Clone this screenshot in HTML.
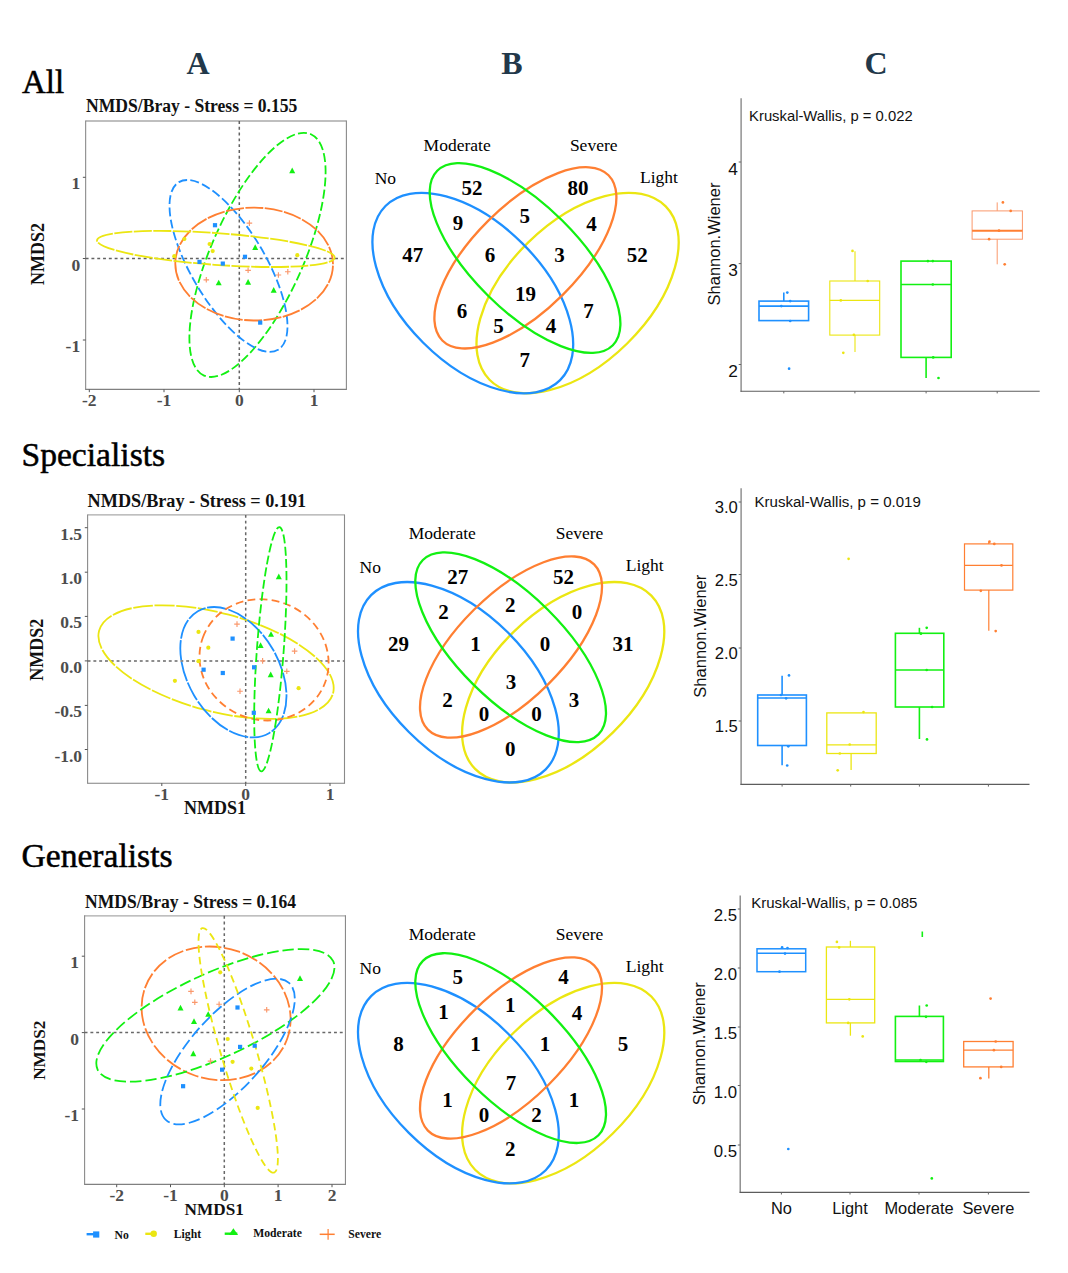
<!DOCTYPE html>
<html><head><meta charset="utf-8"><title>Figure</title>
<style>html,body{margin:0;padding:0;background:#fff}svg{display:block}</style></head>
<body><svg width="1068" height="1273" viewBox="0 0 1068 1273">
<rect width="1068" height="1273" fill="#ffffff"/>
<text x="22.00" y="92.50" font-family="Liberation Serif, serif" font-size="33" font-weight="normal" fill="#000" text-anchor="start" stroke="#000" stroke-width="0.5">All</text>
<text x="21.50" y="465.50" font-family="Liberation Serif, serif" font-size="33.6" font-weight="normal" fill="#000" text-anchor="start" stroke="#000" stroke-width="0.5">Specialists</text>
<text x="21.50" y="866.70" font-family="Liberation Serif, serif" font-size="33.6" font-weight="normal" fill="#000" text-anchor="start" stroke="#000" stroke-width="0.5">Generalists</text>
<text x="198.00" y="73.80" font-family="Liberation Serif, serif" font-size="32" font-weight="bold" fill="#22384a" text-anchor="middle">A</text>
<text x="512.00" y="73.50" font-family="Liberation Serif, serif" font-size="32" font-weight="bold" fill="#22384a" text-anchor="middle">B</text>
<text x="876.00" y="74.20" font-family="Liberation Serif, serif" font-size="32" font-weight="bold" fill="#22384a" text-anchor="middle">C</text>
<path d="M85.65,121.0H346.4" stroke="#aaa" stroke-width="1.3" fill="none"/>
<path d="M85.65,120.5V389.9M346.4,120.5V389.9" stroke="#8a8a8a" stroke-width="1.1" fill="none"/>
<path d="M85.65,389.4H346.4" stroke="#808080" stroke-width="1.1" fill="none"/>
<path d="M239.3,121.0V389.4M85.65,258.5H346.4" stroke="#626262" stroke-width="1.5" stroke-dasharray="2.9 2.9" fill="none"/>
<text transform="translate(86,112.2) scale(1,1.04)" font-family="Liberation Serif, serif" font-size="17.6" font-weight="bold" fill="#111">NMDS/Bray - Stress = 0.155</text>
<path d="M89.3,389.4v2.8" stroke="#555" stroke-width="1"/>
<text x="89.30" y="405.90" font-family="Liberation Serif, serif" font-size="17.5" font-weight="bold" fill="#4d4d4d" text-anchor="middle">-2</text>
<path d="M164,389.4v2.8" stroke="#555" stroke-width="1"/>
<text x="164.00" y="405.90" font-family="Liberation Serif, serif" font-size="17.5" font-weight="bold" fill="#4d4d4d" text-anchor="middle">-1</text>
<path d="M239.3,389.4v2.8" stroke="#555" stroke-width="1"/>
<text x="239.30" y="405.90" font-family="Liberation Serif, serif" font-size="17.5" font-weight="bold" fill="#4d4d4d" text-anchor="middle">0</text>
<path d="M314,389.4v2.8" stroke="#555" stroke-width="1"/>
<text x="314.00" y="405.90" font-family="Liberation Serif, serif" font-size="17.5" font-weight="bold" fill="#4d4d4d" text-anchor="middle">1</text>
<path d="M85.65,177.3h-2.8" stroke="#555" stroke-width="1"/>
<text x="80.15" y="189.30" font-family="Liberation Serif, serif" font-size="17.5" font-weight="bold" fill="#4d4d4d" text-anchor="end">1</text>
<path d="M85.65,258.5h-2.8" stroke="#555" stroke-width="1"/>
<text x="80.15" y="270.50" font-family="Liberation Serif, serif" font-size="17.5" font-weight="bold" fill="#4d4d4d" text-anchor="end">0</text>
<path d="M85.65,340h-2.8" stroke="#555" stroke-width="1"/>
<text x="80.15" y="352.00" font-family="Liberation Serif, serif" font-size="17.5" font-weight="bold" fill="#4d4d4d" text-anchor="end">-1</text>
<text transform="translate(44.00,254.00) rotate(-90)" font-family="Liberation Serif, serif" font-size="18" font-weight="bold" fill="#111" text-anchor="middle">NMDS2</text>
<ellipse cx="0" cy="0" rx="131.97" ry="46.16" transform="translate(257.50,254.90) rotate(113.89)" fill="none" stroke="#12f012" stroke-width="1.8" stroke-dasharray="9 3.3"/>
<ellipse cx="0" cy="0" rx="97.41" ry="37.13" transform="translate(228.50,265.95) rotate(59.40)" fill="none" stroke="#1e90ff" stroke-width="1.8" stroke-dasharray="9 3.3"/>
<ellipse cx="0" cy="0" rx="78.85" ry="56.45" transform="translate(254.15,264.05) rotate(-179.47)" fill="none" stroke="#ff7f32" stroke-width="1.8" stroke-dasharray="18 1.5"/>
<ellipse cx="0" cy="0" rx="119.16" ry="15.88" transform="translate(215.85,248.95) rotate(-175.83)" fill="none" stroke="#ebe612" stroke-width="1.8" stroke-dasharray="18 1.5"/>
<rect x="212.90" y="223.10" width="4.2" height="4.2" fill="#1e90ff"/>
<rect x="197.40" y="259.80" width="4.2" height="4.2" fill="#1e90ff"/>
<rect x="220.70" y="261.50" width="4.2" height="4.2" fill="#1e90ff"/>
<rect x="242.90" y="254.70" width="4.2" height="4.2" fill="#1e90ff"/>
<rect x="258.10" y="320.50" width="4.2" height="4.2" fill="#1e90ff"/>
<circle cx="184.40" cy="239.00" r="2.1" fill="#ebe612"/>
<circle cx="209.60" cy="244.00" r="2.1" fill="#ebe612"/>
<circle cx="212.70" cy="251.10" r="2.1" fill="#ebe612"/>
<circle cx="174.30" cy="256.20" r="2.1" fill="#ebe612"/>
<circle cx="297.30" cy="255.20" r="2.1" fill="#ebe612"/>
<path d="M292.20,167.45 L295.20,173.15 L289.20,173.15Z" fill="#12f012"/>
<path d="M255.20,244.25 L258.20,249.95 L252.20,249.95Z" fill="#12f012"/>
<path d="M218.70,279.65 L221.70,285.35 L215.70,285.35Z" fill="#12f012"/>
<path d="M248.10,279.05 L251.10,284.75 L245.10,284.75Z" fill="#12f012"/>
<path d="M273.70,287.05 L276.70,292.75 L270.70,292.75Z" fill="#12f012"/>
<path d="M246.60,223.10H252.20M249.40,220.30V225.90" stroke="#fa986c" stroke-width="1.15" fill="none"/>
<path d="M245.30,270.30H250.90M248.10,267.50V273.10" stroke="#fa986c" stroke-width="1.15" fill="none"/>
<path d="M203.50,279.80H209.10M206.30,277.00V282.60" stroke="#fa986c" stroke-width="1.15" fill="none"/>
<path d="M275.60,275.00H281.20M278.40,272.20V277.80" stroke="#fa986c" stroke-width="1.15" fill="none"/>
<path d="M285.00,271.70H290.60M287.80,268.90V274.50" stroke="#fa986c" stroke-width="1.15" fill="none"/>
<path d="M87.6,514.9H344.5" stroke="#aaa" stroke-width="1.3" fill="none"/>
<path d="M87.6,514.4V783.7M344.5,514.4V783.7" stroke="#8a8a8a" stroke-width="1.1" fill="none"/>
<path d="M87.6,783.2H344.5" stroke="#808080" stroke-width="1.1" fill="none"/>
<path d="M245.7,514.9V783.2M87.6,660.9H344.5" stroke="#686868" stroke-width="1.5" stroke-dasharray="2.9 2.9" fill="none"/>
<text transform="translate(87.6,506.5) scale(1,1.04)" font-family="Liberation Serif, serif" font-size="18.2" font-weight="bold" fill="#111">NMDS/Bray - Stress = 0.191</text>
<path d="M161.8,783.2v2.8" stroke="#555" stroke-width="1"/>
<text x="161.80" y="799.70" font-family="Liberation Serif, serif" font-size="17.5" font-weight="bold" fill="#4d4d4d" text-anchor="middle">-1</text>
<path d="M245.7,783.2v2.8" stroke="#555" stroke-width="1"/>
<text x="245.70" y="799.70" font-family="Liberation Serif, serif" font-size="17.5" font-weight="bold" fill="#4d4d4d" text-anchor="middle">0</text>
<path d="M330,783.2v2.8" stroke="#555" stroke-width="1"/>
<text x="330.00" y="799.70" font-family="Liberation Serif, serif" font-size="17.5" font-weight="bold" fill="#4d4d4d" text-anchor="middle">1</text>
<path d="M87.6,527.7h-2.8" stroke="#555" stroke-width="1"/>
<text x="82.10" y="539.70" font-family="Liberation Serif, serif" font-size="17.5" font-weight="bold" fill="#4d4d4d" text-anchor="end">1.5</text>
<path d="M87.6,572.2h-2.8" stroke="#555" stroke-width="1"/>
<text x="82.10" y="584.20" font-family="Liberation Serif, serif" font-size="17.5" font-weight="bold" fill="#4d4d4d" text-anchor="end">1.0</text>
<path d="M87.6,616.4h-2.8" stroke="#555" stroke-width="1"/>
<text x="82.10" y="628.40" font-family="Liberation Serif, serif" font-size="17.5" font-weight="bold" fill="#4d4d4d" text-anchor="end">0.5</text>
<path d="M87.6,660.9h-2.8" stroke="#555" stroke-width="1"/>
<text x="82.10" y="672.90" font-family="Liberation Serif, serif" font-size="17.5" font-weight="bold" fill="#4d4d4d" text-anchor="end">0.0</text>
<path d="M87.6,705.4h-2.8" stroke="#555" stroke-width="1"/>
<text x="82.10" y="717.40" font-family="Liberation Serif, serif" font-size="17.5" font-weight="bold" fill="#4d4d4d" text-anchor="end">-0.5</text>
<path d="M87.6,749.5h-2.8" stroke="#555" stroke-width="1"/>
<text x="82.10" y="761.50" font-family="Liberation Serif, serif" font-size="17.5" font-weight="bold" fill="#4d4d4d" text-anchor="end">-1.0</text>
<text x="215.00" y="813.60" font-family="Liberation Serif, serif" font-size="18" font-weight="bold" fill="#111" text-anchor="middle">NMDS1</text>
<text transform="translate(43.00,649.80) rotate(-90)" font-family="Liberation Serif, serif" font-size="18" font-weight="bold" fill="#111" text-anchor="middle">NMDS2</text>
<ellipse cx="0" cy="0" rx="121.08" ry="49.06" transform="translate(216.05,662.10) rotate(-165.01)" fill="none" stroke="#ebe612" stroke-width="1.8" stroke-dasharray="20 1.6"/>
<ellipse cx="0" cy="0" rx="70.63" ry="45.63" transform="translate(233.40,672.20) rotate(59.75)" fill="none" stroke="#1e90ff" stroke-width="1.8" stroke-dasharray="20 1.6"/>
<ellipse cx="0" cy="0" rx="65.13" ry="60.02" transform="translate(264.05,659.85) rotate(-159.91)" fill="none" stroke="#ff7f32" stroke-width="1.8" stroke-dasharray="7.8 4.3"/>
<ellipse cx="0" cy="0" rx="122.48" ry="13.41" transform="translate(270.35,649.25) rotate(94.24)" fill="none" stroke="#12f012" stroke-width="1.8" stroke-dasharray="9 3.3"/>
<rect x="230.50" y="636.50" width="4.2" height="4.2" fill="#1e90ff"/>
<rect x="201.50" y="667.60" width="4.2" height="4.2" fill="#1e90ff"/>
<rect x="220.70" y="670.90" width="4.2" height="4.2" fill="#1e90ff"/>
<rect x="252.00" y="665.20" width="4.2" height="4.2" fill="#1e90ff"/>
<rect x="251.70" y="710.70" width="4.2" height="4.2" fill="#1e90ff"/>
<circle cx="198.50" cy="631.90" r="2.1" fill="#ebe612"/>
<circle cx="208.30" cy="647.70" r="2.1" fill="#ebe612"/>
<circle cx="198.50" cy="661.20" r="2.1" fill="#ebe612"/>
<circle cx="174.90" cy="680.80" r="2.1" fill="#ebe612"/>
<circle cx="298.60" cy="688.20" r="2.1" fill="#ebe612"/>
<path d="M278.80,573.55 L281.80,579.25 L275.80,579.25Z" fill="#12f012"/>
<path d="M271.00,631.15 L274.00,636.85 L268.00,636.85Z" fill="#12f012"/>
<path d="M260.60,642.25 L263.60,647.95 L257.60,647.95Z" fill="#12f012"/>
<path d="M270.70,671.55 L273.70,677.25 L267.70,677.25Z" fill="#12f012"/>
<path d="M268.60,707.65 L271.60,713.35 L265.60,713.35Z" fill="#12f012"/>
<path d="M234.20,624.10H239.80M237.00,621.30V626.90" stroke="#fa986c" stroke-width="1.15" fill="none"/>
<path d="M291.80,651.10H297.40M294.60,648.30V653.90" stroke="#fa986c" stroke-width="1.15" fill="none"/>
<path d="M259.80,660.90H265.40M262.60,658.10V663.70" stroke="#fa986c" stroke-width="1.15" fill="none"/>
<path d="M284.00,671.30H289.60M286.80,668.50V674.10" stroke="#fa986c" stroke-width="1.15" fill="none"/>
<path d="M237.20,691.20H242.80M240.00,688.40V694.00" stroke="#fa986c" stroke-width="1.15" fill="none"/>
<path d="M84.6,915.8H345.45" stroke="#aaa" stroke-width="1.3" fill="none"/>
<path d="M84.6,915.3V1184.9M345.45,915.3V1184.9" stroke="#8a8a8a" stroke-width="1.1" fill="none"/>
<path d="M84.6,1184.4H345.45" stroke="#808080" stroke-width="1.1" fill="none"/>
<path d="M224.3,915.8V1184.4M84.6,1032.6H345.45" stroke="#686868" stroke-width="1.5" stroke-dasharray="2.9 2.9" fill="none"/>
<text transform="translate(85,907.5) scale(1,1.09)" font-family="Liberation Serif, serif" font-size="17.56" font-weight="bold" fill="#111">NMDS/Bray - Stress = 0.164</text>
<path d="M116.7,1184.4v2.8" stroke="#555" stroke-width="1"/>
<text x="116.70" y="1201.00" font-family="Liberation Serif, serif" font-size="17.5" font-weight="bold" fill="#4d4d4d" text-anchor="middle">-2</text>
<path d="M170.5,1184.4v2.8" stroke="#555" stroke-width="1"/>
<text x="170.50" y="1201.00" font-family="Liberation Serif, serif" font-size="17.5" font-weight="bold" fill="#4d4d4d" text-anchor="middle">-1</text>
<path d="M224.3,1184.4v2.8" stroke="#555" stroke-width="1"/>
<text x="224.30" y="1201.00" font-family="Liberation Serif, serif" font-size="17.5" font-weight="bold" fill="#4d4d4d" text-anchor="middle">0</text>
<path d="M278.1,1184.4v2.8" stroke="#555" stroke-width="1"/>
<text x="278.10" y="1201.00" font-family="Liberation Serif, serif" font-size="17.5" font-weight="bold" fill="#4d4d4d" text-anchor="middle">1</text>
<path d="M332,1184.4v2.8" stroke="#555" stroke-width="1"/>
<text x="332.00" y="1201.00" font-family="Liberation Serif, serif" font-size="17.5" font-weight="bold" fill="#4d4d4d" text-anchor="middle">2</text>
<path d="M84.6,956.2h-2.8" stroke="#555" stroke-width="1"/>
<text x="79.10" y="968.20" font-family="Liberation Serif, serif" font-size="17.5" font-weight="bold" fill="#4d4d4d" text-anchor="end">1</text>
<path d="M84.6,1032.6h-2.8" stroke="#555" stroke-width="1"/>
<text x="79.10" y="1044.60" font-family="Liberation Serif, serif" font-size="17.5" font-weight="bold" fill="#4d4d4d" text-anchor="end">0</text>
<path d="M84.6,1109h-2.8" stroke="#555" stroke-width="1"/>
<text x="79.10" y="1121.00" font-family="Liberation Serif, serif" font-size="17.5" font-weight="bold" fill="#4d4d4d" text-anchor="end">-1</text>
<text x="214.20" y="1214.60" font-family="Liberation Serif, serif" font-size="17.2" font-weight="bold" fill="#111" text-anchor="middle">NMDS1</text>
<text transform="translate(45.00,1050.20) rotate(-90)" font-family="Liberation Serif, serif" font-size="17.2" font-weight="bold" fill="#111" text-anchor="middle">NMDS2</text>
<ellipse cx="0" cy="0" rx="75.53" ry="65.68" transform="translate(216.10,1013.35) rotate(-160.50)" fill="none" stroke="#ff7f32" stroke-width="1.8" stroke-dasharray="16.5 2.8"/>
<ellipse cx="0" cy="0" rx="129.66" ry="42.05" transform="translate(215.40,1015.40) rotate(155.30)" fill="none" stroke="#12f012" stroke-width="1.8" stroke-dasharray="11.5 4"/>
<ellipse cx="0" cy="0" rx="92.11" ry="36.68" transform="translate(227.55,1051.55) rotate(131.85)" fill="none" stroke="#1e90ff" stroke-width="1.8" stroke-dasharray="11.5 4"/>
<ellipse cx="0" cy="0" rx="127.37" ry="17.63" transform="translate(238.20,1050.40) rotate(73.62)" fill="none" stroke="#ebe612" stroke-width="1.8" stroke-dasharray="7.5 4.3"/>
<rect x="235.40" y="1005.40" width="4.2" height="4.2" fill="#1e90ff"/>
<rect x="238.00" y="1044.80" width="4.2" height="4.2" fill="#1e90ff"/>
<rect x="252.60" y="1043.60" width="4.2" height="4.2" fill="#1e90ff"/>
<rect x="220.00" y="1067.60" width="4.2" height="4.2" fill="#1e90ff"/>
<rect x="181.00" y="1084.10" width="4.2" height="4.2" fill="#1e90ff"/>
<circle cx="220.20" cy="972.30" r="2.1" fill="#ebe612"/>
<circle cx="227.70" cy="1039.00" r="2.1" fill="#ebe612"/>
<circle cx="232.60" cy="1061.80" r="2.1" fill="#ebe612"/>
<circle cx="251.30" cy="1068.60" r="2.1" fill="#ebe612"/>
<circle cx="257.70" cy="1107.90" r="2.1" fill="#ebe612"/>
<path d="M300.00,975.25 L303.00,980.95 L297.00,980.95Z" fill="#12f012"/>
<path d="M180.50,1004.85 L183.50,1010.55 L177.50,1010.55Z" fill="#12f012"/>
<path d="M208.20,1011.15 L211.20,1016.85 L205.20,1016.85Z" fill="#12f012"/>
<path d="M194.00,1018.35 L197.00,1024.05 L191.00,1024.05Z" fill="#12f012"/>
<path d="M193.30,1050.55 L196.30,1056.25 L190.30,1056.25Z" fill="#12f012"/>
<path d="M188.20,991.40H193.80M191.00,988.60V994.20" stroke="#fa986c" stroke-width="1.15" fill="none"/>
<path d="M192.00,1002.30H197.60M194.80,999.50V1005.10" stroke="#fa986c" stroke-width="1.15" fill="none"/>
<path d="M216.30,1004.20H221.90M219.10,1001.40V1007.00" stroke="#fa986c" stroke-width="1.15" fill="none"/>
<path d="M263.90,1009.80H269.50M266.70,1007.00V1012.60" stroke="#fa986c" stroke-width="1.15" fill="none"/>
<path d="M207.70,1061.10H213.30M210.50,1058.30V1063.90" stroke="#fa986c" stroke-width="1.15" fill="none"/>
<path d="M86.6,1234.2h9" stroke="#1e90ff" stroke-width="2.4"/>
<rect x="93.10" y="1231.40" width="6.2" height="6.2" fill="#1e90ff"/>
<text x="114.50" y="1238.50" font-family="Liberation Serif, serif" font-size="11.7" font-weight="bold" fill="#111" text-anchor="start">No</text>
<path d="M145.3,1233.8h8" stroke="#ebe612" stroke-width="2.4"/>
<circle cx="153.70" cy="1233.70" r="3.2" fill="#ebe612"/>
<text x="173.80" y="1237.90" font-family="Liberation Serif, serif" font-size="11.7" font-weight="bold" fill="#111" text-anchor="start">Light</text>
<path d="M224.7,1233.7h12.6" stroke="#12f012" stroke-width="2.4"/>
<path d="M233.4,1228.2L238,1235H228.8Z" fill="#12f012"/>
<text x="253.20" y="1237.30" font-family="Liberation Serif, serif" font-size="11.7" font-weight="bold" fill="#111" text-anchor="start">Moderate</text>
<path d="M319.7,1234.3h15" stroke="#ff7f32" stroke-width="1.5"/>
<path d="M328.1,1229v10.7" stroke="#ff7f32" stroke-width="1.2"/>
<text x="348.20" y="1237.90" font-family="Liberation Serif, serif" font-size="11.7" font-weight="bold" fill="#111" text-anchor="start">Severe</text>
<ellipse cx="0" cy="0" rx="123.59" ry="70.69" transform="translate(577.60,293.05) rotate(135.48)" fill="none" stroke="#ebe612" stroke-width="2.3"/>
<ellipse cx="0" cy="0" rx="123.30" ry="70.19" transform="translate(472.80,293.05) rotate(-135.08)" fill="none" stroke="#1e90ff" stroke-width="2.3"/>
<ellipse cx="0" cy="0" rx="117.19" ry="52.58" transform="translate(525.40,257.85) rotate(135.17)" fill="none" stroke="#ff7f32" stroke-width="2.3"/>
<ellipse cx="0" cy="0" rx="123.74" ry="52.78" transform="translate(525.05,258.00) rotate(-135.20)" fill="none" stroke="#12f012" stroke-width="2.3"/>
<text x="472.10" y="195.40" font-family="Liberation Serif, serif" font-size="21" font-weight="bold" fill="#000" text-anchor="middle">52</text>
<text x="578.00" y="195.40" font-family="Liberation Serif, serif" font-size="21" font-weight="bold" fill="#000" text-anchor="middle">80</text>
<text x="458.00" y="230.10" font-family="Liberation Serif, serif" font-size="21" font-weight="bold" fill="#000" text-anchor="middle">9</text>
<text x="524.70" y="223.40" font-family="Liberation Serif, serif" font-size="21" font-weight="bold" fill="#000" text-anchor="middle">5</text>
<text x="591.40" y="230.80" font-family="Liberation Serif, serif" font-size="21" font-weight="bold" fill="#000" text-anchor="middle">4</text>
<text x="412.80" y="262.20" font-family="Liberation Serif, serif" font-size="21" font-weight="bold" fill="#000" text-anchor="middle">47</text>
<text x="490.00" y="262.20" font-family="Liberation Serif, serif" font-size="21" font-weight="bold" fill="#000" text-anchor="middle">6</text>
<text x="559.40" y="262.20" font-family="Liberation Serif, serif" font-size="21" font-weight="bold" fill="#000" text-anchor="middle">3</text>
<text x="637.30" y="262.20" font-family="Liberation Serif, serif" font-size="21" font-weight="bold" fill="#000" text-anchor="middle">52</text>
<text x="525.40" y="300.60" font-family="Liberation Serif, serif" font-size="21" font-weight="bold" fill="#000" text-anchor="middle">19</text>
<text x="462.00" y="318.40" font-family="Liberation Serif, serif" font-size="21" font-weight="bold" fill="#000" text-anchor="middle">6</text>
<text x="588.40" y="318.40" font-family="Liberation Serif, serif" font-size="21" font-weight="bold" fill="#000" text-anchor="middle">7</text>
<text x="498.40" y="332.60" font-family="Liberation Serif, serif" font-size="21" font-weight="bold" fill="#000" text-anchor="middle">5</text>
<text x="551.00" y="332.60" font-family="Liberation Serif, serif" font-size="21" font-weight="bold" fill="#000" text-anchor="middle">4</text>
<text x="524.70" y="367.30" font-family="Liberation Serif, serif" font-size="21" font-weight="bold" fill="#000" text-anchor="middle">7</text>
<text x="423.60" y="150.70" font-family="Liberation Serif, serif" font-size="17.5" font-weight="normal" fill="#000" text-anchor="start">Moderate</text>
<text x="569.90" y="150.70" font-family="Liberation Serif, serif" font-size="17.5" font-weight="normal" fill="#000" text-anchor="start">Severe</text>
<text x="374.70" y="184.40" font-family="Liberation Serif, serif" font-size="17.5" font-weight="normal" fill="#000" text-anchor="start">No</text>
<text x="640.00" y="183.40" font-family="Liberation Serif, serif" font-size="17.5" font-weight="normal" fill="#000" text-anchor="start">Light</text>
<ellipse cx="0" cy="0" rx="123.59" ry="70.69" transform="translate(563.20,682.25) rotate(135.48)" fill="none" stroke="#ebe612" stroke-width="2.3"/>
<ellipse cx="0" cy="0" rx="123.30" ry="70.19" transform="translate(458.40,682.25) rotate(-135.08)" fill="none" stroke="#1e90ff" stroke-width="2.3"/>
<ellipse cx="0" cy="0" rx="117.19" ry="52.58" transform="translate(511.00,647.05) rotate(135.17)" fill="none" stroke="#ff7f32" stroke-width="2.3"/>
<ellipse cx="0" cy="0" rx="123.74" ry="52.78" transform="translate(510.65,647.20) rotate(-135.20)" fill="none" stroke="#12f012" stroke-width="2.3"/>
<text x="457.70" y="583.80" font-family="Liberation Serif, serif" font-size="21" font-weight="bold" fill="#000" text-anchor="middle">27</text>
<text x="563.60" y="583.80" font-family="Liberation Serif, serif" font-size="21" font-weight="bold" fill="#000" text-anchor="middle">52</text>
<text x="443.60" y="618.50" font-family="Liberation Serif, serif" font-size="21" font-weight="bold" fill="#000" text-anchor="middle">2</text>
<text x="510.30" y="611.80" font-family="Liberation Serif, serif" font-size="21" font-weight="bold" fill="#000" text-anchor="middle">2</text>
<text x="577.00" y="619.20" font-family="Liberation Serif, serif" font-size="21" font-weight="bold" fill="#000" text-anchor="middle">0</text>
<text x="398.40" y="650.60" font-family="Liberation Serif, serif" font-size="21" font-weight="bold" fill="#000" text-anchor="middle">29</text>
<text x="475.60" y="650.60" font-family="Liberation Serif, serif" font-size="21" font-weight="bold" fill="#000" text-anchor="middle">1</text>
<text x="545.00" y="650.60" font-family="Liberation Serif, serif" font-size="21" font-weight="bold" fill="#000" text-anchor="middle">0</text>
<text x="622.90" y="650.60" font-family="Liberation Serif, serif" font-size="21" font-weight="bold" fill="#000" text-anchor="middle">31</text>
<text x="511.00" y="689.00" font-family="Liberation Serif, serif" font-size="21" font-weight="bold" fill="#000" text-anchor="middle">3</text>
<text x="447.60" y="706.80" font-family="Liberation Serif, serif" font-size="21" font-weight="bold" fill="#000" text-anchor="middle">2</text>
<text x="574.00" y="706.80" font-family="Liberation Serif, serif" font-size="21" font-weight="bold" fill="#000" text-anchor="middle">3</text>
<text x="484.00" y="721.00" font-family="Liberation Serif, serif" font-size="21" font-weight="bold" fill="#000" text-anchor="middle">0</text>
<text x="536.60" y="721.00" font-family="Liberation Serif, serif" font-size="21" font-weight="bold" fill="#000" text-anchor="middle">0</text>
<text x="510.30" y="755.70" font-family="Liberation Serif, serif" font-size="21" font-weight="bold" fill="#000" text-anchor="middle">0</text>
<text x="408.80" y="538.80" font-family="Liberation Serif, serif" font-size="17.5" font-weight="normal" fill="#000" text-anchor="start">Moderate</text>
<text x="555.70" y="538.80" font-family="Liberation Serif, serif" font-size="17.5" font-weight="normal" fill="#000" text-anchor="start">Severe</text>
<text x="359.50" y="573.20" font-family="Liberation Serif, serif" font-size="17.5" font-weight="normal" fill="#000" text-anchor="start">No</text>
<text x="625.80" y="570.90" font-family="Liberation Serif, serif" font-size="17.5" font-weight="normal" fill="#000" text-anchor="start">Light</text>
<ellipse cx="0" cy="0" rx="123.59" ry="70.69" transform="translate(563.20,1083.15) rotate(135.48)" fill="none" stroke="#ebe612" stroke-width="2.3"/>
<ellipse cx="0" cy="0" rx="123.30" ry="70.19" transform="translate(458.40,1083.15) rotate(-135.08)" fill="none" stroke="#1e90ff" stroke-width="2.3"/>
<ellipse cx="0" cy="0" rx="117.19" ry="52.58" transform="translate(511.00,1047.95) rotate(135.17)" fill="none" stroke="#ff7f32" stroke-width="2.3"/>
<ellipse cx="0" cy="0" rx="123.74" ry="52.78" transform="translate(510.65,1048.10) rotate(-135.20)" fill="none" stroke="#12f012" stroke-width="2.3"/>
<text x="457.70" y="984.30" font-family="Liberation Serif, serif" font-size="21" font-weight="bold" fill="#000" text-anchor="middle">5</text>
<text x="563.60" y="984.30" font-family="Liberation Serif, serif" font-size="21" font-weight="bold" fill="#000" text-anchor="middle">4</text>
<text x="443.60" y="1019.00" font-family="Liberation Serif, serif" font-size="21" font-weight="bold" fill="#000" text-anchor="middle">1</text>
<text x="510.30" y="1012.30" font-family="Liberation Serif, serif" font-size="21" font-weight="bold" fill="#000" text-anchor="middle">1</text>
<text x="577.00" y="1019.70" font-family="Liberation Serif, serif" font-size="21" font-weight="bold" fill="#000" text-anchor="middle">4</text>
<text x="398.40" y="1051.10" font-family="Liberation Serif, serif" font-size="21" font-weight="bold" fill="#000" text-anchor="middle">8</text>
<text x="475.60" y="1051.10" font-family="Liberation Serif, serif" font-size="21" font-weight="bold" fill="#000" text-anchor="middle">1</text>
<text x="545.00" y="1051.10" font-family="Liberation Serif, serif" font-size="21" font-weight="bold" fill="#000" text-anchor="middle">1</text>
<text x="622.90" y="1051.10" font-family="Liberation Serif, serif" font-size="21" font-weight="bold" fill="#000" text-anchor="middle">5</text>
<text x="511.00" y="1089.50" font-family="Liberation Serif, serif" font-size="21" font-weight="bold" fill="#000" text-anchor="middle">7</text>
<text x="447.60" y="1107.30" font-family="Liberation Serif, serif" font-size="21" font-weight="bold" fill="#000" text-anchor="middle">1</text>
<text x="574.00" y="1107.30" font-family="Liberation Serif, serif" font-size="21" font-weight="bold" fill="#000" text-anchor="middle">1</text>
<text x="484.00" y="1121.50" font-family="Liberation Serif, serif" font-size="21" font-weight="bold" fill="#000" text-anchor="middle">0</text>
<text x="536.60" y="1121.50" font-family="Liberation Serif, serif" font-size="21" font-weight="bold" fill="#000" text-anchor="middle">2</text>
<text x="510.30" y="1156.20" font-family="Liberation Serif, serif" font-size="21" font-weight="bold" fill="#000" text-anchor="middle">2</text>
<text x="408.80" y="940.00" font-family="Liberation Serif, serif" font-size="17.5" font-weight="normal" fill="#000" text-anchor="start">Moderate</text>
<text x="555.70" y="940.00" font-family="Liberation Serif, serif" font-size="17.5" font-weight="normal" fill="#000" text-anchor="start">Severe</text>
<text x="359.50" y="973.80" font-family="Liberation Serif, serif" font-size="17.5" font-weight="normal" fill="#000" text-anchor="start">No</text>
<text x="625.80" y="971.90" font-family="Liberation Serif, serif" font-size="17.5" font-weight="normal" fill="#000" text-anchor="start">Light</text>
<path d="M741.1,98.3V391.7" stroke="#808080" stroke-width="1.3" fill="none"/>
<path d="M740.5,391.2H1039.7" stroke="#5c5c5c" stroke-width="1.15" fill="none"/>
<path d="M783.8,391.2v2.2" stroke="#666" stroke-width="1"/>
<path d="M854.9,391.2v2.2" stroke="#666" stroke-width="1"/>
<path d="M926.1,391.2v2.2" stroke="#666" stroke-width="1"/>
<path d="M997.2,391.2v2.2" stroke="#666" stroke-width="1"/>
<path d="M741.1,162h-2.4" stroke="#666" stroke-width="1"/>
<text x="737.90" y="174.50" font-family="Liberation Sans, sans-serif" font-size="17.3" font-weight="normal" fill="#111" text-anchor="end">4</text>
<path d="M741.1,263.6h-2.4" stroke="#666" stroke-width="1"/>
<text x="737.90" y="276.10" font-family="Liberation Sans, sans-serif" font-size="17.3" font-weight="normal" fill="#111" text-anchor="end">3</text>
<path d="M741.1,364.5h-2.4" stroke="#666" stroke-width="1"/>
<text x="737.90" y="377.00" font-family="Liberation Sans, sans-serif" font-size="17.3" font-weight="normal" fill="#111" text-anchor="end">2</text>
<text transform="translate(719.50,244.00) rotate(-90)" font-family="Liberation Sans, sans-serif" font-size="16.5" font-weight="normal" fill="#111" text-anchor="middle">Shannon.Wiener</text>
<text x="749.10" y="121.30" font-family="Liberation Sans, sans-serif" font-size="14.8" font-weight="normal" fill="#111" text-anchor="start">Kruskal-Wallis, p = 0.022</text>
<rect x="759" y="301.1" width="49.60" height="19.50" fill="none" stroke="#1e90ff" stroke-width="1.6"/>
<path d="M759,306.1H808.6" stroke="#1e90ff" stroke-width="1.6"/>
<path d="M783.8,301.1V292.6" stroke="#1e90ff" stroke-width="1.6"/>
<circle cx="787.30" cy="292.60" r="1.35" fill="#1e90ff"/>
<circle cx="790.20" cy="301.10" r="1.35" fill="#1e90ff"/>
<circle cx="781.30" cy="306.10" r="1.35" fill="#1e90ff"/>
<circle cx="790.20" cy="321.00" r="1.35" fill="#1e90ff"/>
<circle cx="789.10" cy="368.70" r="1.35" fill="#1e90ff"/>
<rect x="829.8" y="281" width="49.90" height="54.10" fill="none" stroke="#ebe612" stroke-width="1.1"/>
<path d="M829.8,300.4H879.7" stroke="#ebe612" stroke-width="1.1"/>
<path d="M855,281V251.2" stroke="#ebe612" stroke-width="1.1"/>
<path d="M855,335.1V352.1" stroke="#ebe612" stroke-width="1.1"/>
<circle cx="852.50" cy="250.90" r="1.35" fill="#ebe612"/>
<circle cx="867.70" cy="281.00" r="1.35" fill="#ebe612"/>
<circle cx="840.80" cy="300.40" r="1.35" fill="#ebe612"/>
<circle cx="853.90" cy="334.80" r="1.35" fill="#ebe612"/>
<circle cx="843.30" cy="352.80" r="1.35" fill="#ebe612"/>
<rect x="901" y="261.1" width="50.20" height="96.30" fill="none" stroke="#12f012" stroke-width="1.6"/>
<path d="M901,284.5H951.2" stroke="#12f012" stroke-width="1.6"/>
<path d="M926.1,357.4V378" stroke="#12f012" stroke-width="1.6"/>
<circle cx="927.90" cy="261.10" r="1.35" fill="#12f012"/>
<circle cx="932.80" cy="261.10" r="1.35" fill="#12f012"/>
<circle cx="932.80" cy="284.50" r="1.35" fill="#12f012"/>
<circle cx="933.20" cy="357.40" r="1.35" fill="#12f012"/>
<circle cx="938.50" cy="378.00" r="1.35" fill="#12f012"/>
<rect x="972.1" y="210.9" width="50.30" height="28.30" fill="none" stroke="#fa986c" stroke-width="1.0"/>
<path d="M972.1,230.7H1022.4" stroke="#ff7f32" stroke-width="1.9"/>
<path d="M997.2,210.9V202.4" stroke="#fa986c" stroke-width="1.0"/>
<path d="M997.2,239.2V264.3" stroke="#fa986c" stroke-width="1.0"/>
<circle cx="1002.90" cy="202.40" r="1.35" fill="#ff7f32"/>
<circle cx="1010.70" cy="210.90" r="1.35" fill="#ff7f32"/>
<circle cx="999.00" cy="230.70" r="1.35" fill="#ff7f32"/>
<circle cx="989.10" cy="239.20" r="1.35" fill="#ff7f32"/>
<circle cx="1004.70" cy="264.30" r="1.35" fill="#ff7f32"/>
<path d="M741.1,488.3V784.9" stroke="#808080" stroke-width="1.3" fill="none"/>
<path d="M740.5,784.4H1029.5" stroke="#5c5c5c" stroke-width="1.15" fill="none"/>
<path d="M782.1,784.4v2.2" stroke="#666" stroke-width="1"/>
<path d="M850.7,784.4v2.2" stroke="#666" stroke-width="1"/>
<path d="M919.4,784.4v2.2" stroke="#666" stroke-width="1"/>
<path d="M988.4,784.4v2.2" stroke="#666" stroke-width="1"/>
<path d="M741.1,502h-2.4" stroke="#666" stroke-width="1"/>
<text x="737.90" y="513.30" font-family="Liberation Sans, sans-serif" font-size="16.7" font-weight="normal" fill="#111" text-anchor="end">3.0</text>
<path d="M741.1,574.5h-2.4" stroke="#666" stroke-width="1"/>
<text x="737.90" y="585.80" font-family="Liberation Sans, sans-serif" font-size="16.7" font-weight="normal" fill="#111" text-anchor="end">2.5</text>
<path d="M741.1,648h-2.4" stroke="#666" stroke-width="1"/>
<text x="737.90" y="659.30" font-family="Liberation Sans, sans-serif" font-size="16.7" font-weight="normal" fill="#111" text-anchor="end">2.0</text>
<path d="M741.1,721h-2.4" stroke="#666" stroke-width="1"/>
<text x="737.90" y="732.30" font-family="Liberation Sans, sans-serif" font-size="16.7" font-weight="normal" fill="#111" text-anchor="end">1.5</text>
<text transform="translate(705.50,636.20) rotate(-90)" font-family="Liberation Sans, sans-serif" font-size="16.5" font-weight="normal" fill="#111" text-anchor="middle">Shannon.Wiener</text>
<text x="754.50" y="507.20" font-family="Liberation Sans, sans-serif" font-size="15.05" font-weight="normal" fill="#111" text-anchor="start">Kruskal-Wallis, p = 0.019</text>
<rect x="757.7" y="695" width="48.70" height="50.50" fill="none" stroke="#1e90ff" stroke-width="1.6"/>
<path d="M757.7,698H806.4" stroke="#1e90ff" stroke-width="1.6"/>
<path d="M782.1,695V675.8" stroke="#1e90ff" stroke-width="1.6"/>
<path d="M782.1,745.5V765.2" stroke="#1e90ff" stroke-width="1.6"/>
<circle cx="789.00" cy="675.40" r="1.35" fill="#1e90ff"/>
<circle cx="781.00" cy="695.00" r="1.35" fill="#1e90ff"/>
<circle cx="786.10" cy="698.30" r="1.35" fill="#1e90ff"/>
<circle cx="788.30" cy="746.30" r="1.35" fill="#1e90ff"/>
<circle cx="787.20" cy="765.50" r="1.35" fill="#1e90ff"/>
<rect x="826.8" y="712.9" width="49.40" height="40.60" fill="none" stroke="#ebe612" stroke-width="1.3"/>
<path d="M826.8,744.8H876.2" stroke="#ebe612" stroke-width="1.3"/>
<path d="M851.1,753.5V769.9" stroke="#ebe612" stroke-width="1.3"/>
<circle cx="848.60" cy="558.80" r="1.35" fill="#ebe612"/>
<circle cx="863.50" cy="712.10" r="1.35" fill="#ebe612"/>
<circle cx="849.70" cy="744.50" r="1.35" fill="#ebe612"/>
<circle cx="839.80" cy="753.50" r="1.35" fill="#ebe612"/>
<circle cx="837.70" cy="770.30" r="1.35" fill="#ebe612"/>
<rect x="895.4" y="633.3" width="48.40" height="73.70" fill="none" stroke="#12f012" stroke-width="1.6"/>
<path d="M895.4,670H943.8" stroke="#12f012" stroke-width="1.6"/>
<path d="M919.4,633.3V627.8" stroke="#12f012" stroke-width="1.6"/>
<path d="M919.4,707V739" stroke="#12f012" stroke-width="1.6"/>
<circle cx="926.70" cy="627.80" r="1.35" fill="#12f012"/>
<circle cx="920.90" cy="633.70" r="1.35" fill="#12f012"/>
<circle cx="926.70" cy="670.00" r="1.35" fill="#12f012"/>
<circle cx="932.10" cy="707.00" r="1.35" fill="#12f012"/>
<circle cx="927.00" cy="739.40" r="1.35" fill="#12f012"/>
<rect x="964.5" y="543.9" width="48.30" height="46.20" fill="none" stroke="#ff7f32" stroke-width="1.2"/>
<path d="M964.5,565.4H1012.8" stroke="#ff7f32" stroke-width="1.2"/>
<path d="M988.8,543.9V541.5" stroke="#ff7f32" stroke-width="1.2"/>
<path d="M988.8,590.1V630.7" stroke="#ff7f32" stroke-width="1.2"/>
<circle cx="989.50" cy="541.70" r="1.35" fill="#ff7f32"/>
<circle cx="994.30" cy="543.90" r="1.35" fill="#ff7f32"/>
<circle cx="1001.50" cy="565.40" r="1.35" fill="#ff7f32"/>
<circle cx="980.80" cy="590.80" r="1.35" fill="#ff7f32"/>
<circle cx="995.70" cy="631.10" r="1.35" fill="#ff7f32"/>
<path d="M740.2,895.4V1192.8" stroke="#808080" stroke-width="1.3" fill="none"/>
<path d="M739.6,1192.3H1029.5" stroke="#5c5c5c" stroke-width="1.15" fill="none"/>
<path d="M781.4,1192.3v2.2" stroke="#666" stroke-width="1"/>
<path d="M850,1192.3v2.2" stroke="#666" stroke-width="1"/>
<path d="M919,1192.3v2.2" stroke="#666" stroke-width="1"/>
<path d="M988.4,1192.3v2.2" stroke="#666" stroke-width="1"/>
<path d="M740.2,909h-2.4" stroke="#666" stroke-width="1"/>
<text x="737.00" y="921.00" font-family="Liberation Sans, sans-serif" font-size="16.8" font-weight="normal" fill="#111" text-anchor="end">2.5</text>
<path d="M740.2,968h-2.4" stroke="#666" stroke-width="1"/>
<text x="737.00" y="980.00" font-family="Liberation Sans, sans-serif" font-size="16.8" font-weight="normal" fill="#111" text-anchor="end">2.0</text>
<path d="M740.2,1027h-2.4" stroke="#666" stroke-width="1"/>
<text x="737.00" y="1039.00" font-family="Liberation Sans, sans-serif" font-size="16.8" font-weight="normal" fill="#111" text-anchor="end">1.5</text>
<path d="M740.2,1085.5h-2.4" stroke="#666" stroke-width="1"/>
<text x="737.00" y="1097.50" font-family="Liberation Sans, sans-serif" font-size="16.8" font-weight="normal" fill="#111" text-anchor="end">1.0</text>
<path d="M740.2,1145h-2.4" stroke="#666" stroke-width="1"/>
<text x="737.00" y="1157.00" font-family="Liberation Sans, sans-serif" font-size="16.8" font-weight="normal" fill="#111" text-anchor="end">0.5</text>
<text transform="translate(704.50,1043.80) rotate(-90)" font-family="Liberation Sans, sans-serif" font-size="16.5" font-weight="normal" fill="#111" text-anchor="middle">Shannon.Wiener</text>
<text x="751.20" y="908.10" font-family="Liberation Sans, sans-serif" font-size="15.05" font-weight="normal" fill="#111" text-anchor="start">Kruskal-Wallis, p = 0.085</text>
<rect x="757" y="948.8" width="48.70" height="22.90" fill="none" stroke="#1e90ff" stroke-width="1.5"/>
<path d="M757,953.2H805.7" stroke="#1e90ff" stroke-width="1.5"/>
<circle cx="782.10" cy="947.40" r="1.35" fill="#1e90ff"/>
<circle cx="787.50" cy="948.10" r="1.35" fill="#1e90ff"/>
<circle cx="785.00" cy="953.60" r="1.35" fill="#1e90ff"/>
<circle cx="779.50" cy="971.70" r="1.35" fill="#1e90ff"/>
<circle cx="788.30" cy="1149.00" r="1.35" fill="#1e90ff"/>
<rect x="826.4" y="947" width="48.30" height="75.90" fill="none" stroke="#ebe612" stroke-width="1.3"/>
<path d="M826.4,999.3H874.7" stroke="#ebe612" stroke-width="1.3"/>
<path d="M850.4,947V940.8" stroke="#ebe612" stroke-width="1.3"/>
<path d="M850.4,1022.9V1035.7" stroke="#ebe612" stroke-width="1.3"/>
<circle cx="836.90" cy="941.90" r="1.35" fill="#ebe612"/>
<circle cx="839.10" cy="947.40" r="1.35" fill="#ebe612"/>
<circle cx="849.30" cy="999.30" r="1.35" fill="#ebe612"/>
<circle cx="848.20" cy="1022.90" r="1.35" fill="#ebe612"/>
<circle cx="862.70" cy="1036.40" r="1.35" fill="#ebe612"/>
<rect x="895.4" y="1016.4" width="48.00" height="45.10" fill="none" stroke="#12f012" stroke-width="1.6"/>
<path d="M895.4,1060H943.4" stroke="#12f012" stroke-width="1.6"/>
<path d="M919.4,1016.4V1005.5" stroke="#12f012" stroke-width="1.6"/>
<path d="M922.3,931.5v5.5" stroke="#12f012" stroke-width="1.6"/>
<circle cx="926.70" cy="1005.50" r="1.35" fill="#12f012"/>
<circle cx="926.00" cy="1016.80" r="1.35" fill="#12f012"/>
<circle cx="920.50" cy="1060.00" r="1.35" fill="#12f012"/>
<circle cx="926.30" cy="1061.80" r="1.35" fill="#12f012"/>
<circle cx="931.80" cy="1178.40" r="1.35" fill="#12f012"/>
<rect x="963.7" y="1041.5" width="49.40" height="25.40" fill="none" stroke="#ff7f32" stroke-width="1.3"/>
<path d="M963.7,1050.2H1013.1" stroke="#ff7f32" stroke-width="1.3"/>
<path d="M988.8,1066.9V1078.5" stroke="#ff7f32" stroke-width="1.3"/>
<circle cx="990.60" cy="998.60" r="1.35" fill="#ff7f32"/>
<circle cx="995.70" cy="1041.50" r="1.35" fill="#ff7f32"/>
<circle cx="993.90" cy="1050.20" r="1.35" fill="#ff7f32"/>
<circle cx="1001.20" cy="1066.90" r="1.35" fill="#ff7f32"/>
<circle cx="980.40" cy="1078.20" r="1.35" fill="#ff7f32"/>
<text x="781.40" y="1214.00" font-family="Liberation Sans, sans-serif" font-size="16.4" font-weight="normal" fill="#111" text-anchor="middle">No</text>
<text x="850.00" y="1214.00" font-family="Liberation Sans, sans-serif" font-size="16.4" font-weight="normal" fill="#111" text-anchor="middle">Light</text>
<text x="919.00" y="1214.00" font-family="Liberation Sans, sans-serif" font-size="16.4" font-weight="normal" fill="#111" text-anchor="middle">Moderate</text>
<text x="988.40" y="1214.00" font-family="Liberation Sans, sans-serif" font-size="16.4" font-weight="normal" fill="#111" text-anchor="middle">Severe</text>
</svg></body></html>
